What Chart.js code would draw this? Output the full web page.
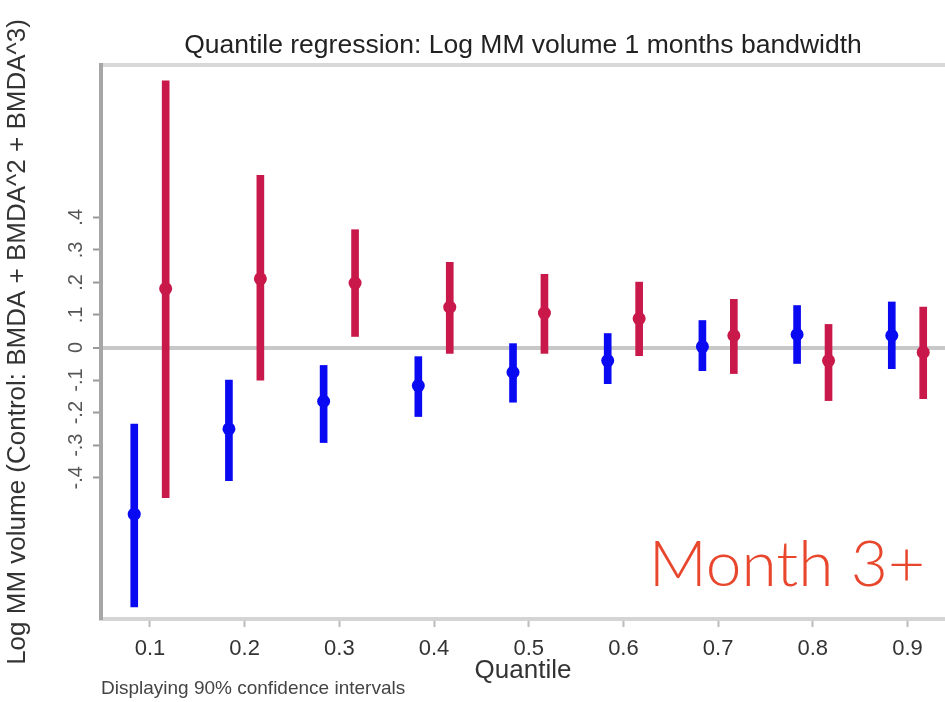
<!DOCTYPE html>
<html lang="en">
<head>
<meta charset="utf-8"/>
<title>Quantile regression: Log MM volume 1 months bandwidth</title>
<script src="https://cdn.jsdelivr.net/npm/chart.js"></script>
<style>
  html, body { margin: 0; padding: 0; background: #fff; }
  canvas { display: block; }
</style>
</head>
<body>
<canvas id="qreg" width="945" height="702"></canvas>
<script>
  // quantiles on the x axis
  const quantiles = [0.1, 0.2, 0.3, 0.4, 0.5, 0.6, 0.7, 0.8, 0.9];
  const xTickLabels = ['0.1', '0.2', '0.3', '0.4', '0.5', '0.6', '0.7', '0.8', '0.9'];

  // blue series (earlier months): coefficient and 90% CI
  const earlyCoef = [-0.512, -0.250, -0.165, -0.117, -0.076, -0.040, 0.003, 0.040, 0.037];
  const earlyLo   = [-0.797, -0.409, -0.292, -0.212, -0.168, -0.111, -0.071, -0.049, -0.065];
  const earlyHi   = [-0.235, -0.100, -0.055, -0.028, 0.012, 0.043, 0.083, 0.129, 0.140];

  // red series (month 3+): coefficient and 90% CI
  const month3Coef = [0.181, 0.211, 0.198, 0.124, 0.106, 0.089, 0.037, -0.040, -0.015];
  const month3Lo   = [-0.461, -0.100, 0.034, -0.018, -0.018, -0.025, -0.080, -0.163, -0.157];
  const month3Hi   = [0.819, 0.529, 0.362, 0.262, 0.225, 0.201, 0.148, 0.071, 0.124];

  const yTicks = [-0.4, -0.3, -0.2, -0.1, 0, 0.1, 0.2, 0.3, 0.4];
  const yTickLabels = ['-.4', '-.3', '-.2', '-.1', '0', '.1', '.2', '.3', '.4'];

  const BLUE = '#0a0af2';
  const RED = '#c9184a';
  const DODGE = 0.0166;  // half gap between the two estimates at each quantile
  const X_MIN = 0.0483, X_MAX = 0.9396;
  const FONT = "'Liberation Sans', Arial, sans-serif";

  const interval = (lo, hi, shift) => quantiles.map((q, i) => ({ x: q + shift, y: [lo[i], hi[i]] }));
  const points = (coef, shift) => quantiles.map((q, i) => ({ x: q + shift, y: coef[i] }));

  // footnote + in-plot label
  const notes = {
    id: 'notes',
    afterDraw(chart) {
      const { ctx, chartArea } = chart;
      ctx.save();
      ctx.fillStyle = '#444';
      ctx.font = '19px ' + FONT;
      ctx.textBaseline = 'middle';
      ctx.textAlign = 'left';
      ctx.fillText('Displaying 90% confidence intervals', chartArea.left, chart.height - 13);

      ctx.fillStyle = '#e8472d';
      ctx.font = "300 64px Lato, 'DejaVu Sans', sans-serif";
      ctx.textAlign = 'right';
      ctx.textBaseline = 'alphabetic';
      ctx.fillText('Month 3+', chartArea.right - 20, chartArea.bottom - 33);
      ctx.restore();
    }
  };

  new Chart(document.getElementById('qreg'), {
    type: 'scatter',
    data: {
      datasets: [
        { type: 'scatter', data: points(earlyCoef, -DODGE), backgroundColor: BLUE, borderWidth: 0, pointRadius: 6.5, order: 0 },
        { type: 'scatter', data: points(month3Coef, DODGE), backgroundColor: RED, borderWidth: 0, pointRadius: 6.5, order: 0 },
        { type: 'bar', data: interval(earlyLo, earlyHi, -DODGE), backgroundColor: BLUE, barThickness: 7, grouped: false, borderWidth: 0, order: 1 },
        { type: 'bar', data: interval(month3Lo, month3Hi, DODGE), backgroundColor: RED, barThickness: 7, grouped: false, borderWidth: 0, order: 1 }
      ]
    },
    options: {
      responsive: false,
      animation: false,
      layout: { autoPadding: false, padding: { left: 0, right: 0, top: 0, bottom: 17 } },
      plugins: { legend: { display: false }, tooltip: { enabled: false } },
      scales: {
        x: {
          type: 'linear', position: 'bottom', min: X_MIN, max: X_MAX, offset: false,
          afterBuildTicks: s => { s.ticks = quantiles.map(v => ({ value: v })); },
          ticks: {
            callback: (v, i) => xTickLabels[i],
            color: '#333', padding: 11,
            font: { family: FONT, size: 22, lineHeight: 1 },
            maxRotation: 0, autoSkip: false
          },
          grid: { offset: false, drawOnChartArea: false, drawTicks: true, tickLength: 8, tickColor: '#bbb', tickWidth: 2 },
          border: { color: '#d4d4d4', width: 4 },
          title: {
            display: true, text: 'Quantile', color: '#333',
            font: { family: FONT, size: 26, lineHeight: 1 },
            padding: { top: -13, bottom: 1 }
          }
        },
        x2: {
          type: 'linear', position: 'top', min: X_MIN, max: X_MAX, display: true,
          ticks: { display: false },
          grid: { display: false, drawTicks: false },
          border: { display: true, color: '#d8d8d8', width: 4 },
          title: {
            display: true, text: 'Quantile regression: Log MM volume 1 months bandwidth', color: '#222',
            font: { family: FONT, size: 26.5, lineHeight: 1 },
            padding: { top: 32, bottom: 6.5 }
          }
        },
        y: {
          type: 'linear', min: -0.834, max: 0.868,
          afterBuildTicks: s => { s.ticks = yTicks.map(v => ({ value: v })); },
          ticks: {
            callback: (v, i) => yTickLabels[i],
            color: '#555', padding: 5, crossAlign: 'center',
            minRotation: 90, maxRotation: 90,
            font: { family: FONT, size: 20, lineHeight: 1 }
          },
          grid: {
            offset: false,
            color: c => (c.tick && c.tick.value === 0) ? '#c8c8c8' : 'rgba(0,0,0,0)',
            lineWidth: c => (c.tick && c.tick.value === 0) ? 4 : 1,
            tickColor: '#999', tickWidth: 2, tickLength: 8
          },
          border: { color: '#a6a6a6', width: 4 },
          title: {
            display: true, text: 'Log MM volume (Control: BMDA + BMDA^2 + BMDA^3)', color: '#333',
            font: { family: FONT, size: 26, lineHeight: 1 },
            padding: { top: 5, bottom: 32 }
          }
        }
      }
    },
    plugins: [notes]
  });
</script>
</body>
</html>
